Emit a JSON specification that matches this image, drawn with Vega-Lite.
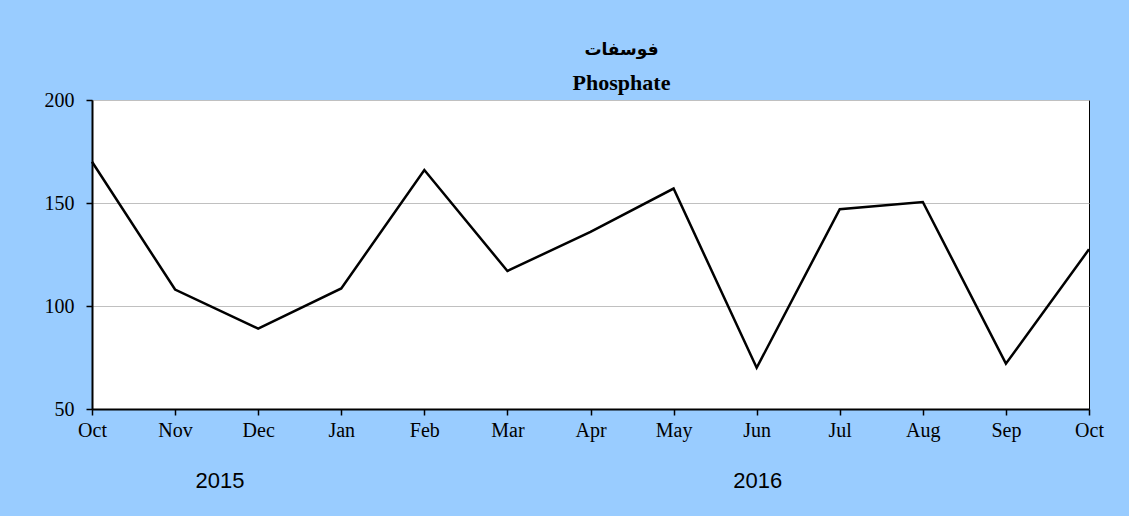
{
  "$schema": "https://vega.github.io/schema/vega-lite/v6.json",
  "width": 997,
  "height": 309,
  "autosize": {"type": "none"},
  "padding": {"left": 92, "top": 100, "right": 40, "bottom": 107},
  "background": "#99CCFF",
  "title": {
    "text": "فوسفات",
    "subtitle": "Phosphate",
    "font": "DejaVu Sans",
    "fontSize": 17,
    "fontWeight": "bold",
    "color": "#000000",
    "subtitleFont": "Liberation Serif",
    "subtitleFontSize": 22,
    "subtitleFontWeight": "bold",
    "subtitleColor": "#000000",
    "subtitlePadding": 14,
    "anchor": "middle",
    "frame": "group",
    "dx": 31,
    "offset": -5
  },
  "config": {
    "view": {"stroke": "#000000", "strokeWidth": 1, "fill": "#FFFFFF"},
    "axis": {
      "labelFont": "Liberation Serif",
      "labelFontSize": 20,
      "labelColor": "#000000",
      "domainColor": "#000000",
      "domainWidth": 2,
      "tickColor": "#000000",
      "tickWidth": 1.5,
      "title": null
    }
  },
  "datasets": {
    "series": [
      {"month": "Oct 2015", "value": 170},
      {"month": "Nov 2015", "value": 108},
      {"month": "Dec 2015", "value": 89},
      {"month": "Jan 2016", "value": 108.5},
      {"month": "Feb 2016", "value": 166},
      {"month": "Mar 2016", "value": 117},
      {"month": "Apr 2016", "value": 136},
      {"month": "May 2016", "value": 157},
      {"month": "Jun 2016", "value": 70},
      {"month": "Jul 2016", "value": 147},
      {"month": "Aug 2016", "value": 150.5},
      {"month": "Sep 2016", "value": 72},
      {"month": "Oct 2016", "value": 127.5}
    ],
    "y2015": [{"month": "Nov 2015", "year": "2015"}],
    "y2016": [{"month": "Jun 2016", "year": "2016"}]
  },
  "layer": [
    {
      "data": {"name": "series"},
      "mark": {"type": "line", "color": "#000000", "strokeWidth": 2.5},
      "encoding": {
        "x": {
          "field": "month",
          "type": "ordinal",
          "sort": null,
          "scale": {"type": "point", "padding": 0},
          "axis": {
            "labelAngle": 0,
            "labelExpr": "split(datum.value, ' ')[0]",
            "tickSize": 6,
            "labelPadding": 5,
            "grid": false
          }
        },
        "y": {
          "field": "value",
          "type": "quantitative",
          "scale": {"domain": [50, 200], "nice": false, "zero": false},
          "axis": {
            "values": [50, 100, 150, 200],
            "tickSize": 6,
            "labelPadding": 12,
            "grid": true,
            "gridColor": "#C0C0C0",
            "gridWidth": 1
          }
        }
      }
    },
    {
      "data": {"name": "y2015"},
      "mark": {"type": "text", "font": "Liberation Sans", "fontSize": 22, "color": "#000000", "dx": 45, "dy": 72, "baseline": "middle"},
      "encoding": {
        "x": {"field": "month", "type": "ordinal", "sort": null},
        "y": {"value": 309},
        "text": {"field": "year"}
      }
    },
    {
      "data": {"name": "y2016"},
      "mark": {"type": "text", "font": "Liberation Sans", "fontSize": 22, "color": "#000000", "dx": 1, "dy": 72, "baseline": "middle"},
      "encoding": {
        "x": {"field": "month", "type": "ordinal", "sort": null},
        "y": {"value": 309},
        "text": {"field": "year"}
      }
    }
  ]
}
